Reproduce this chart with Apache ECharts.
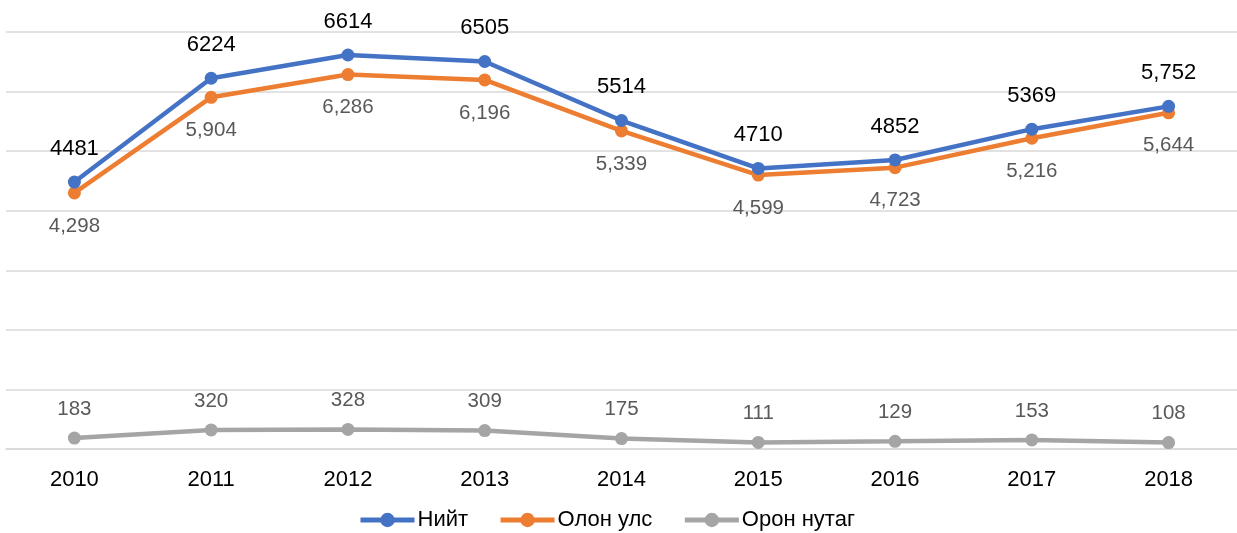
<!DOCTYPE html>
<html>
<head>
<meta charset="utf-8">
<script src="https://cdn.jsdelivr.net/npm/echarts@6/dist/echarts.min.js"></script>
<style>
    html, body { margin: 0; padding: 0; background: #fff; }
    #line_chart { width: 1237px; height: 533px; }
</style>
</head>
<body>
<div id="line_chart"></div>
<script>
// Chart data
var years = ['2010', '2011', '2012', '2013', '2014', '2015', '2016', '2017', '2018'];
var seriesNames = ['Нийт', 'Олон улс', 'Орон нутаг'];
var totalValues = [4481, 6224, 6614, 6505, 5514, 4710, 4852, 5369, 5752];
var totalLabels = ['4481', '6224', '6614', '6505', '5514', '4710', '4852', '5369', '5,752'];
var intlValues = [4298, 5904, 6286, 6196, 5339, 4599, 4723, 5216, 5644];
var localValues = [183, 320, 328, 309, 175, 111, 129, 153, 108];

var fmt = function (v) {
    return String(v).replace(/\B(?=(\d{3})+(?!\d))/g, ',');
};

var line_element = document.getElementById('line_chart');
var line_chart = echarts.init(line_element, null, { renderer: 'canvas' });

line_chart.setOption({
    animation: false,
    textStyle: {
        fontFamily: '"Liberation Sans", Arial, sans-serif'
    },
    grid: {
        left: 6,
        right: -8,
        top: 32,
        height: 417
    },
    legend: {
        data: seriesNames,
        top: 509,
        left: 358,
        padding: 0,
        itemWidth: 54,
        itemHeight: 18,
        itemGap: 30,
        lineStyle: { width: 5 },
        textStyle: {
            fontSize: 22,
            color: '#000',
            padding: [0, 0, 0, -2]
        }
    },
    xAxis: {
        type: 'category',
        data: years,
        boundaryGap: true,
        axisLine: { show: true, lineStyle: { color: '#d9d9d9', width: 1.5 } },
        axisTick: { show: false },
        axisLabel: { color: '#000', fontSize: 22, margin: 20 }
    },
    yAxis: {
        type: 'value',
        min: 0,
        max: 7000,
        interval: 1000,
        axisLabel: { show: false },
        axisLine: { show: false },
        axisTick: { show: false },
        splitLine: { lineStyle: { color: '#d9d9d9', width: 1.5 } }
    },
    series: [
        {
            name: seriesNames[0],
            type: 'line',
            data: totalValues,
            symbol: 'circle',
            symbolSize: 13,
            itemStyle: { color: '#4472C4' },
            lineStyle: { width: 4.5, color: '#4472C4' },
            label: {
                show: true,
                position: 'top',
                distance: 16,
                color: '#000',
                fontSize: 22,
                formatter: function (p) { return totalLabels[p.dataIndex]; }
            },
            z: 3
        },
        {
            name: seriesNames[1],
            type: 'line',
            data: intlValues,
            symbol: 'circle',
            symbolSize: 13,
            itemStyle: { color: '#ED7D31' },
            lineStyle: { width: 4.5, color: '#ED7D31' },
            label: {
                show: true,
                position: 'bottom',
                distance: 16,
                color: '#595959',
                fontSize: 20.5,
                formatter: function (p) { return fmt(p.value); }
            },
            z: 2
        },
        {
            name: seriesNames[2],
            type: 'line',
            data: localValues,
            symbol: 'circle',
            symbolSize: 13,
            itemStyle: { color: '#A5A5A5' },
            lineStyle: { width: 4.5, color: '#A5A5A5' },
            label: {
                show: true,
                position: 'top',
                distance: 12,
                color: '#595959',
                fontSize: 20.5
            }
        }
    ]
});
</script>
</body>
</html>
